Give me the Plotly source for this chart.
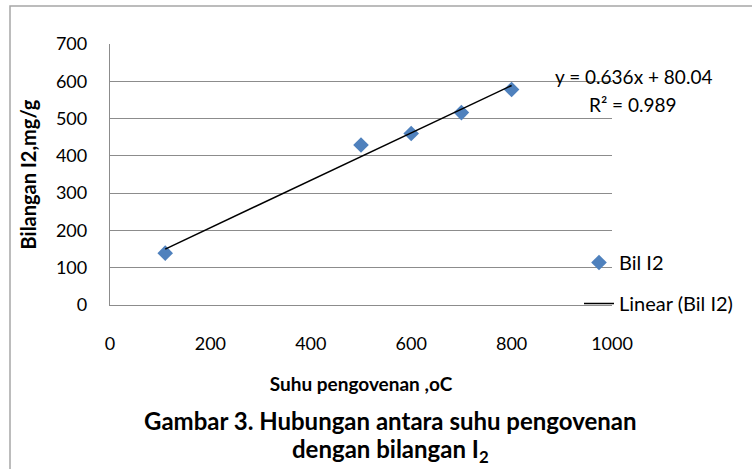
import plotly.graph_objects as go

# Data
suhu = [110, 500, 600, 700, 800]
bilangan_i2 = [139, 429, 460, 516, 578]
slope = 0.636
intercept = 80.04
trend_x = [110, 800]
trend_y = [slope * v + intercept for v in trend_x]
x_ticks = [0, 200, 400, 600, 800, 1000]
y_ticks = [0, 100, 200, 300, 400, 500, 600, 700]

FONT = "Lato"
GRID = "#8c8c8c"

fig = go.Figure()
fig.add_trace(go.Scatter(
    x=suhu, y=bilangan_i2, mode="markers", name="Bil I2",
    marker=dict(symbol="diamond", size=12, color="#4f81bd"),
    legendgroup="a",
))
fig.add_trace(go.Scatter(
    x=trend_x, y=trend_y, mode="lines", name="Linear (Bil I2)",
    line=dict(color="#000000", width=1.5),
    legendgroup="b",
))

W, H = 752, 469
L, R, T, B = 110, 752 - 612, 44, 469 - 305
pw, ph = W - L - R, H - T - B

def px(x):
    return (x - L) / pw

def py(y):
    return (H - B - y) / ph

fig.update_layout(
    width=W, height=H,
    margin=dict(l=L, r=R, t=T, b=B, autoexpand=False),
    paper_bgcolor="white", plot_bgcolor="white",
    font=dict(family=FONT, size=18, color="#000000"),
    showlegend=True,
    legend=dict(x=px(579), y=py(243), xanchor="left", yanchor="top",
                traceorder="grouped", tracegroupgap=12,
                font=dict(size=20), bgcolor="rgba(0,0,0,0)", itemwidth=30),
    xaxis=dict(range=[0, 1000], tickvals=x_ticks, showgrid=False, automargin=False,
               showline=True, linecolor=GRID, linewidth=1.3, zeroline=False,
               ticks="outside", ticklen=22, tickcolor="rgba(0,0,0,0)",
               tickfont=dict(size=18),
               title=dict(text="<b>Suhu pengovenan ,oC</b>", font=dict(size=19), standoff=24)),
    yaxis=dict(range=[0, 700], tickvals=y_ticks, showgrid=True, gridcolor=GRID,
               gridwidth=1.3, showline=True, linecolor=GRID, linewidth=1.3, automargin=False,
               zeroline=False, ticks="outside", ticklen=18,
               tickcolor="rgba(0,0,0,0)", tickfont=dict(size=18),
               title=dict(text="<b>Bilangan I2,mg/g</b>", font=dict(size=20), standoff=13)),
    shapes=[dict(type="rect", xref="paper", yref="paper",
                 x0=px(10), x1=px(770), y0=py(480), y1=py(6),
                 line=dict(color="#a6a6a6", width=1.5), layer="below")],
    annotations=[
        dict(text="y = 0.636x + 80.04", x=px(633), y=py(77), xref="paper", yref="paper",
             xanchor="center", yanchor="middle", showarrow=False, font=dict(size=19)),
        dict(text="R² = 0.989", x=px(633), y=py(104), xref="paper", yref="paper",
             xanchor="center", yanchor="middle", showarrow=False, font=dict(size=19)),
        dict(text="<b>Gambar 3. Hubungan antara suhu pengovenan</b>", x=px(390), y=py(420),
             xref="paper", yref="paper", xanchor="center", yanchor="middle",
             showarrow=False, font=dict(size=24)),
        dict(text="<b>dengan bilangan I<sub>2</sub></b>", x=px(390), y=py(450),
             xref="paper", yref="paper", xanchor="center", yanchor="middle",
             showarrow=False, font=dict(size=24)),
    ],
)

fig.write_html("out.html", config={"displayModeBar": False},
               post_script="document.body.style.margin='0';")
